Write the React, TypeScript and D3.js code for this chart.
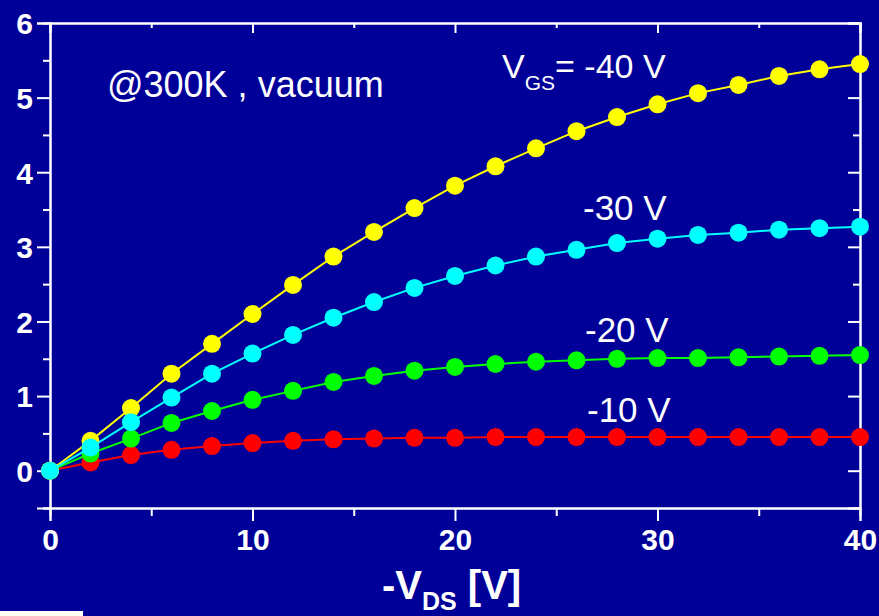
import React, { useEffect, useRef } from 'react';
import * as d3 from 'd3';

const vds = [0, 2, 4, 6, 8, 10, 12, 14, 16, 18, 20, 22, 24, 26, 28, 30, 32, 34, 36, 38, 40];

const id40 = [0, 0.4, 0.84, 1.3, 1.7, 2.1, 2.49, 2.87, 3.2, 3.52, 3.82, 4.08, 4.32, 4.55, 4.74, 4.91, 5.06, 5.17, 5.29, 5.38, 5.45];
const id30 = [0, 0.31, 0.65, 0.98, 1.3, 1.57, 1.82, 2.05, 2.26, 2.45, 2.61, 2.75, 2.87, 2.96, 3.05, 3.11, 3.16, 3.19, 3.23, 3.25, 3.27];
const id20 = [0, 0.23, 0.43, 0.64, 0.8, 0.95, 1.07, 1.19, 1.27, 1.34, 1.39, 1.43, 1.46, 1.48, 1.5, 1.51, 1.51, 1.52, 1.53, 1.54, 1.55];
const id10 = [0, 0.11, 0.21, 0.28, 0.33, 0.37, 0.4, 0.42, 0.43, 0.44, 0.44, 0.45, 0.45, 0.45, 0.45, 0.45, 0.45, 0.45, 0.45, 0.45, 0.45];

// drawing order: red, green, yellow, cyan (cyan ends up on top near origin)
const series = [
  { name: '-10 V', values: id10, color: '#ff0000' },
  { name: '-20 V', values: id20, color: '#00ff00' },
  { name: '-40 V', values: id40, color: '#ffff00' },
  { name: '-30 V', values: id30, color: '#00ffff' },
];

const xTicks = [0, 10, 20, 30, 40];
const xMinor = [5, 15, 25, 35];
const yTicks = [0, 1, 2, 3, 4, 5, 6];
const yMinor = [-0.5, 0.5, 1.5, 2.5, 3.5, 4.5, 5.5];

function App() {
  const ref = useRef(null);
  const width = 879;
  const height = 616;
  const margin = { top: 23, right: 19, bottom: 108, left: 50 };
  const font = '"Liberation Sans", Arial, sans-serif';

  useEffect(() => {
    d3.select(ref.current).select('svg').remove();
    const svg = d3
      .select(ref.current)
      .append('svg')
      .attr('width', width)
      .attr('height', height)
      .style('display', 'block');

    svg.append('rect').attr('width', width).attr('height', height).attr('fill', '#000099');
    svg.append('rect').attr('x', 0).attr('y', 611).attr('width', 83).attr('height', 5).attr('fill', '#ffffff');

    const x = d3.scaleLinear().domain([0, 40]).range([margin.left, width - margin.right]);
    const y = d3.scaleLinear().domain([-0.5, 6]).range([height - margin.bottom, margin.top]);

    const styleAxis = (g, labels, dy) => {
      g.select('.domain').attr('stroke', '#fff').attr('stroke-width', 2);
      g.selectAll('.tick line').attr('stroke', '#fff').attr('stroke-width', 2);
      g.selectAll('.tick text')
        .attr('fill', '#fff')
        .attr('dy', dy)
        .style('font-family', font)
        .style('font-weight', 'bold')
        .style('font-size', '30px');
      if (!labels) g.selectAll('.tick text').remove();
    };

    // bottom axis
    svg.append('g')
      .attr('transform', `translate(0,${y(-0.5)})`)
      .call(d3.axisBottom(x).tickValues(xTicks).tickSize(13).tickPadding(8).tickFormat(d3.format('d')))
      .call(g => styleAxis(g, true, '0.71em'));
    svg.append('g')
      .attr('transform', `translate(0,${y(-0.5)})`)
      .call(d3.axisBottom(x).tickValues(xMinor).tickSize(8).tickFormat(() => ''))
      .call(g => styleAxis(g, false));

    // top axis (ticks inward)
    svg.append('g')
      .attr('transform', `translate(0,${y(6)})`)
      .call(d3.axisBottom(x).tickValues(xTicks).tickSize(10).tickFormat(() => ''))
      .call(g => styleAxis(g, false));
    svg.append('g')
      .attr('transform', `translate(0,${y(6)})`)
      .call(d3.axisBottom(x).tickValues(xMinor).tickSize(5).tickFormat(() => ''))
      .call(g => styleAxis(g, false));

    // left axis
    svg.append('g')
      .attr('transform', `translate(${x(0)},0)`)
      .call(d3.axisLeft(y).tickValues(yTicks).tickSize(13).tickPadding(4).tickFormat(d3.format('d')))
      .call(g => styleAxis(g, true, '0.36em'));
    svg.append('g')
      .attr('transform', `translate(${x(0)},0)`)
      .call(d3.axisLeft(y).tickValues(yMinor).tickSize(7).tickFormat(() => ''))
      .call(g => styleAxis(g, false));

    // right axis (ticks inward)
    svg.append('g')
      .attr('transform', `translate(${x(40)},0)`)
      .call(d3.axisLeft(y).tickValues(yTicks).tickSize(12).tickFormat(() => ''))
      .call(g => styleAxis(g, false));
    svg.append('g')
      .attr('transform', `translate(${x(40)},0)`)
      .call(d3.axisLeft(y).tickValues(yMinor).tickSize(7).tickFormat(() => ''))
      .call(g => styleAxis(g, false));

    const line = d3
      .line()
      .x((d, i) => x(vds[i]))
      .y(d => y(d));

    series.forEach(s => {
      svg.append('path')
        .datum(s.values)
        .attr('d', line)
        .attr('fill', 'none')
        .attr('stroke', s.color)
        .attr('stroke-width', 2);
      svg.selectAll(null)
        .data(s.values)
        .enter()
        .append('circle')
        .attr('cx', (d, i) => x(vds[i]))
        .attr('cy', d => y(d))
        .attr('r', 9)
        .attr('fill', s.color);
    });

    const txt = (tx, ty, size, weight, str) =>
      svg.append('text')
        .attr('x', tx)
        .attr('y', ty)
        .attr('fill', '#fff')
        .style('font-family', font)
        .style('font-size', size + 'px')
        .style('font-weight', weight)
        .text(str);

    txt(107, 97, 36, 'normal', '@300K , vacuum');

    const vgs = txt(502, 78, 34, 'normal', 'V');
    vgs.append('tspan').attr('dy', 12).style('font-size', '21px').text('GS');
    vgs.append('tspan').attr('dy', -12).text('= -40 V');

    txt(583, 220, 35, 'normal', '-30 V');
    txt(585, 342, 35, 'normal', '-20 V');
    txt(587, 422, 35, 'normal', '-10 V');

    const title = txt(382, 599, 40, 'bold', '-V');
    title.append('tspan').attr('dy', 11).style('font-size', '25px').text('DS');
    title.append('tspan').attr('dy', -11).text(' [V]');

    return () => {
      d3.select(ref.current).select('svg').remove();
    };
  }, []);

  return <div ref={ref} style={{ position: 'fixed', left: 0, top: 0, width: width, height: height }}></div>;
}

export default App;
